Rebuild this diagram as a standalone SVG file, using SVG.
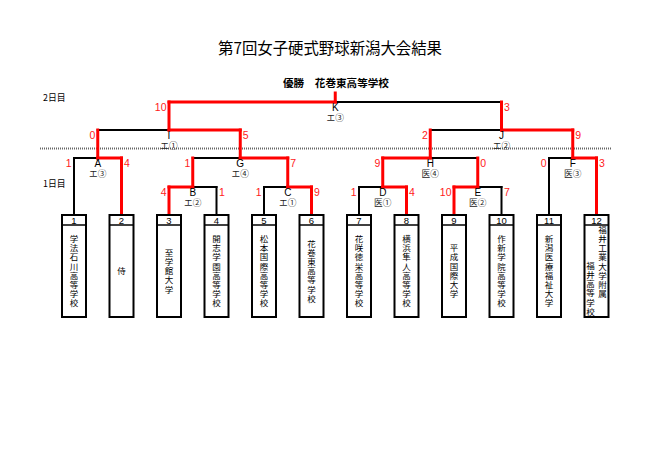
<svg xmlns="http://www.w3.org/2000/svg" width="661" height="467" viewBox="0 0 661 467">
<style>
.bg{fill:#fff}
.k{stroke:#000;stroke-width:2;stroke-linecap:square;fill:none}
.r{stroke:#f00;stroke-width:3;stroke-linecap:square;fill:none}
.dot{stroke:#666;stroke-width:2;stroke-dasharray:1 1;fill:none}
.box{fill:#fff;stroke:#000;stroke-width:2}
.div{stroke:#000;stroke-width:1.5}
.num{font-family:"Liberation Sans",Arial,sans-serif;font-size:9.5px;text-anchor:middle;fill:#000}
.tm{font-family:"Noto Sans CJK JP","Noto Sans CJK SC",sans-serif;font-size:8.5px;text-anchor:middle;fill:#000}
.sc{font-family:"Liberation Sans",Arial,sans-serif;font-size:10.5px;fill:#ff2020}
.sl{text-anchor:end}
.lt{font-family:"Liberation Sans",Arial,sans-serif;font-size:10px;text-anchor:middle;fill:#000}
.sub{font-family:"Noto Sans CJK JP","Noto Sans CJK SC",sans-serif;font-size:8.7px;text-anchor:middle;fill:#222}
.day{font-family:"Noto Sans CJK JP","Noto Sans CJK SC",sans-serif;font-size:8.8px;fill:#000}
.title{font-family:"Noto Sans CJK JP","Noto Sans CJK SC",sans-serif;font-size:15.4px;text-anchor:middle;fill:#000}
.win{font-family:"Noto Sans CJK JP","Noto Sans CJK SC",sans-serif;font-size:10.6px;font-weight:bold;text-anchor:middle;fill:#000}
</style>
<rect class="bg" x="0" y="0" width="661" height="467"/>
<text class="title" x="330" y="54">第7回女子硬式野球新潟大会結果</text>
<text class="win" x="336" y="87">優勝　花巻東高等学校</text>
<text class="day" x="43" y="101">2日目</text>
<text class="day" x="43" y="186.5">1日目</text>
<line class="dot" x1="40" y1="148.5" x2="611" y2="148.5"/>

<g id="connectors">
<g id="black-lines">
<line class="k" x1="74" y1="158" x2="97.75" y2="158"/>
<line class="k" x1="192.75" y1="187" x2="216.5" y2="187"/>
<line class="k" x1="264" y1="187" x2="287.75" y2="187"/>
<line class="k" x1="359" y1="187" x2="382.75" y2="187"/>
<line class="k" x1="477.75" y1="187" x2="501.5" y2="187"/>
<line class="k" x1="549" y1="158" x2="572.75" y2="158"/>
<line class="k" x1="192.75" y1="158" x2="240.25" y2="158"/>
<line class="k" x1="430.25" y1="158" x2="477.75" y2="158"/>
<line class="k" x1="97.75" y1="130" x2="169" y2="130"/>
<line class="k" x1="430.25" y1="130" x2="501.5" y2="130"/>
<line class="k" x1="335.25" y1="102" x2="501.5" y2="102"/>
<line class="k" x1="74" y1="158" x2="74" y2="215"/>
<line class="k" x1="216.5" y1="187" x2="216.5" y2="215"/>
<line class="k" x1="264" y1="187" x2="264" y2="215"/>
<line class="k" x1="359" y1="187" x2="359" y2="215"/>
<line class="k" x1="501.5" y1="187" x2="501.5" y2="215"/>
<line class="k" x1="549" y1="158" x2="549" y2="215"/>
</g>
<g id="red-lines">
<line class="r" x1="97.75" y1="158" x2="121.5" y2="158"/>
<line class="r" x1="169" y1="187" x2="192.75" y2="187"/>
<line class="r" x1="287.75" y1="187" x2="311.5" y2="187"/>
<line class="r" x1="382.75" y1="187" x2="406.5" y2="187"/>
<line class="r" x1="454" y1="187" x2="477.75" y2="187"/>
<line class="r" x1="572.75" y1="158" x2="596.5" y2="158"/>
<line class="r" x1="240.25" y1="158" x2="287.75" y2="158"/>
<line class="r" x1="382.75" y1="158" x2="430.25" y2="158"/>
<line class="r" x1="169" y1="130" x2="240.25" y2="130"/>
<line class="r" x1="501.5" y1="130" x2="572.75" y2="130"/>
<line class="r" x1="169" y1="102" x2="335.25" y2="102"/>
<line class="r" x1="121.5" y1="158" x2="121.5" y2="215"/>
<line class="r" x1="169" y1="187" x2="169" y2="215"/>
<line class="r" x1="311.5" y1="187" x2="311.5" y2="215"/>
<line class="r" x1="406.5" y1="187" x2="406.5" y2="215"/>
<line class="r" x1="454" y1="187" x2="454" y2="215"/>
<line class="r" x1="596.5" y1="158" x2="596.5" y2="215"/>
<line class="r" x1="97.75" y1="130" x2="97.75" y2="158"/>
<line class="r" x1="240.25" y1="130" x2="240.25" y2="158"/>
<line class="r" x1="192.75" y1="158" x2="192.75" y2="187"/>
<line class="r" x1="287.75" y1="158" x2="287.75" y2="187"/>
<line class="r" x1="382.75" y1="158" x2="382.75" y2="187"/>
<line class="r" x1="477.75" y1="158" x2="477.75" y2="187"/>
<line class="r" x1="430.25" y1="130" x2="430.25" y2="158"/>
<line class="r" x1="572.75" y1="130" x2="572.75" y2="158"/>
<line class="r" x1="169" y1="102" x2="169" y2="130"/>
<line class="r" x1="501.5" y1="102" x2="501.5" y2="130"/>
<line class="r" x1="335.25" y1="93" x2="335.25" y2="102"/>
</g>
</g>

<g id="match-K"><text class="lt" x="335.25" y="110.8">K</text><text class="sub" x="335.25" y="120.8">エ③</text><text class="sc sl" x="166.5" y="111.3">10</text><text class="sc" x="504" y="111.3">3</text></g>
<g id="match-I"><text class="lt" x="169" y="138.8">I</text><text class="sub" x="169" y="148.8">エ①</text><text class="sc sl" x="95.25" y="139.3">0</text><text class="sc" x="242.75" y="139.3">5</text></g>
<g id="match-J"><text class="lt" x="501.5" y="138.8">J</text><text class="sub" x="501.5" y="148.8">エ②</text><text class="sc sl" x="427.75" y="139.3">2</text><text class="sc" x="575.25" y="139.3">9</text></g>
<g id="match-A"><text class="lt" x="97.75" y="166.8">A</text><text class="sub" x="97.75" y="176.8">エ③</text><text class="sc sl" x="71.5" y="167.3">1</text><text class="sc" x="124" y="167.3">4</text></g>
<g id="match-G"><text class="lt" x="240.25" y="166.8">G</text><text class="sub" x="240.25" y="176.8">エ④</text><text class="sc sl" x="190.25" y="167.3">1</text><text class="sc" x="290.25" y="167.3">7</text></g>
<g id="match-H"><text class="lt" x="430.25" y="166.8">H</text><text class="sub" x="430.25" y="176.8">医④</text><text class="sc sl" x="380.25" y="167.3">9</text><text class="sc" x="480.25" y="167.3">0</text></g>
<g id="match-F"><text class="lt" x="572.75" y="166.8">F</text><text class="sub" x="572.75" y="176.8">医③</text><text class="sc sl" x="546.5" y="167.3">0</text><text class="sc" x="599" y="167.3">3</text></g>
<g id="match-B"><text class="lt" x="192.75" y="195.8">B</text><text class="sub" x="192.75" y="205.8">エ②</text><text class="sc sl" x="166.5" y="196.3">4</text><text class="sc" x="219" y="196.3">1</text></g>
<g id="match-C"><text class="lt" x="287.75" y="195.8">C</text><text class="sub" x="287.75" y="205.8">エ①</text><text class="sc sl" x="261.5" y="196.3">1</text><text class="sc" x="314" y="196.3">9</text></g>
<g id="match-D"><text class="lt" x="382.75" y="195.8">D</text><text class="sub" x="382.75" y="205.8">医①</text><text class="sc sl" x="356.5" y="196.3">1</text><text class="sc" x="409" y="196.3">4</text></g>
<g id="match-E"><text class="lt" x="477.75" y="195.8">E</text><text class="sub" x="477.75" y="205.8">医②</text><text class="sc sl" x="451.5" y="196.3">10</text><text class="sc" x="504" y="196.3">7</text></g>

<g id="team-1"><rect class="box" x="62" y="215" width="24" height="102"/><line class="div" x1="62" y1="225" x2="86" y2="225"/><text class="num" x="74" y="223.5">1</text><text class="tm" x="74 74 74 74 74 74 74 74" y="242 251.2 260.4 269.6 278.8 288 297.2 306.4">学法石川高等学校</text></g>
<g id="team-2"><rect class="box" x="109.5" y="215" width="24" height="102"/><line class="div" x1="109.5" y1="225" x2="133.5" y2="225"/><text class="num" x="121.5" y="223.5">2</text><text class="tm" x="121.5" y="274.2">侍</text></g>
<g id="team-3"><rect class="box" x="157" y="215" width="24" height="102"/><line class="div" x1="157" y1="225" x2="181" y2="225"/><text class="num" x="169" y="223.5">3</text><text class="tm" x="169 169 169 169 169" y="255.8 265 274.2 283.4 292.6">至学館大学</text></g>
<g id="team-4"><rect class="box" x="204.5" y="215" width="24" height="102"/><line class="div" x1="204.5" y1="225" x2="228.5" y2="225"/><text class="num" x="216.5" y="223.5">4</text><text class="tm" x="216.5 216.5 216.5 216.5 216.5 216.5 216.5 216.5" y="242 251.2 260.4 269.6 278.8 288 297.2 306.4">開志学園高等学校</text></g>
<g id="team-5"><rect class="box" x="252" y="215" width="24" height="102"/><line class="div" x1="252" y1="225" x2="276" y2="225"/><text class="num" x="264" y="223.5">5</text><text class="tm" x="264 264 264 264 264 264 264 264" y="242 251.2 260.4 269.6 278.8 288 297.2 306.4">松本国際高等学校</text></g>
<g id="team-6"><rect class="box" x="299.5" y="215" width="24" height="102"/><line class="div" x1="299.5" y1="225" x2="323.5" y2="225"/><text class="num" x="311.5" y="223.5">6</text><text class="tm" x="311.5 311.5 311.5 311.5 311.5 311.5 311.5" y="246.6 255.8 265 274.2 283.4 292.6 301.8">花巻東高等学校</text></g>
<g id="team-7"><rect class="box" x="347" y="215" width="24" height="102"/><line class="div" x1="347" y1="225" x2="371" y2="225"/><text class="num" x="359" y="223.5">7</text><text class="tm" x="359 359 359 359 359 359 359 359" y="242 251.2 260.4 269.6 278.8 288 297.2 306.4">花咲徳栄高等学校</text></g>
<g id="team-8"><rect class="box" x="394.5" y="215" width="24" height="102"/><line class="div" x1="394.5" y1="225" x2="418.5" y2="225"/><text class="num" x="406.5" y="223.5">8</text><text class="tm" x="406.5 406.5 406.5 406.5 406.5 406.5 406.5 406.5" y="242 251.2 260.4 269.6 278.8 288 297.2 306.4">横浜隼人高等学校</text></g>
<g id="team-9"><rect class="box" x="442" y="215" width="24" height="102"/><line class="div" x1="442" y1="225" x2="466" y2="225"/><text class="num" x="454" y="223.5">9</text><text class="tm" x="454 454 454 454 454 454" y="251.2 260.4 269.6 278.8 288 297.2">平成国際大学</text></g>
<g id="team-10"><rect class="box" x="489.5" y="215" width="24" height="102"/><line class="div" x1="489.5" y1="225" x2="513.5" y2="225"/><text class="num" x="501.5" y="223.5">10</text><text class="tm" x="501.5 501.5 501.5 501.5 501.5 501.5 501.5 501.5" y="242 251.2 260.4 269.6 278.8 288 297.2 306.4">作新学院高等学校</text></g>
<g id="team-11"><rect class="box" x="537" y="215" width="24" height="102"/><line class="div" x1="537" y1="225" x2="561" y2="225"/><text class="num" x="549" y="223.5">11</text><text class="tm" x="549 549 549 549 549 549 549 549" y="242 251.2 260.4 269.6 278.8 288 297.2 306.4">新潟医療福祉大学</text></g>
<g id="team-12"><rect class="box" x="584.5" y="215" width="24" height="102"/><line class="div" x1="584.5" y1="225" x2="608.5" y2="225"/><text class="num" x="596.5" y="223.5">12</text><text class="tm" x="602.5 602.5 602.5 602.5 602.5 602.5 602.5 602.5" y="232.7 241.9 251.1 260.3 269.5 278.7 287.9 297.1">福井工業大学附属</text><text class="tm" x="590.5 590.5 590.5 590.5 590.5 590.5" y="268.7 277.9 287.1 296.3 305.5 314.7">福井高等学校</text></g>
</svg>
